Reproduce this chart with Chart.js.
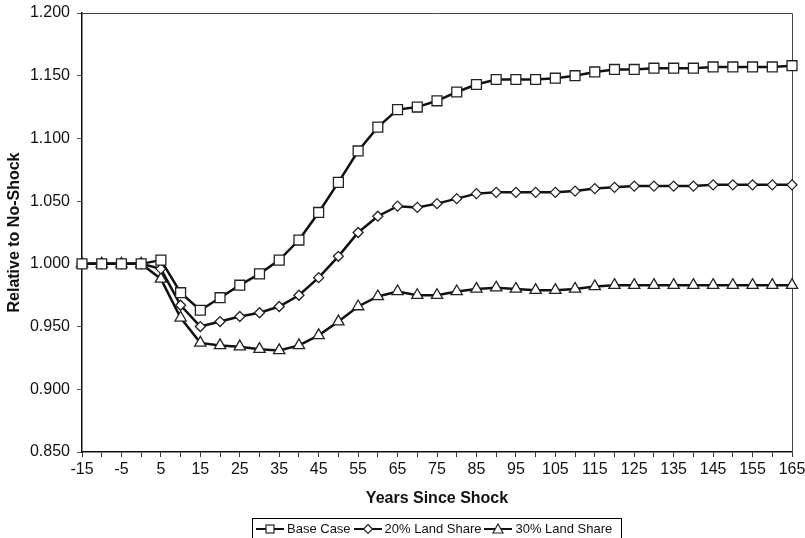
<!DOCTYPE html>
<html>
<head>
<meta charset="utf-8">
<script src="https://cdn.jsdelivr.net/npm/chart.js@4/dist/chart.umd.min.js"></script>
<style>
  body { margin: 0; background: #fff; }
  #wrap { position: relative; width: 805px; height: 538px; overflow: hidden; }
  #legend {
    position: absolute; left: 252px; top: 518px; width: 370px; height: 24px;
    border: 1px solid #000; box-sizing: border-box;
    display: flex; align-items: flex-start; padding: 2px 0 0 3px;
    font: 13px "Liberation Sans", Arial, sans-serif; color: #111; white-space: nowrap;
  }
  #legend span.item { display: inline-flex; align-items: center; margin-right: 3px; }
  #legend svg { margin-right: 3px; }
</style>
</head>
<body>
<div id="wrap">
  <canvas id="myChart" width="805" height="538"></canvas>
  <div id="legend"></div>
</div>
<script>
const years = [-15, -10, -5, 0, 5, 10, 15, 20, 25, 30, 35, 40, 45, 50, 55, 60, 65, 70, 75, 80,
  85, 90, 95, 100, 105, 110, 115, 120, 125, 130, 135, 140, 145, 150, 155, 160, 165];

const baseCase = [1.000, 1.000, 1.000, 1.000, 1.003, 0.977, 0.963, 0.973, 0.983, 0.992, 1.003, 1.019,
  1.041, 1.065, 1.090, 1.109, 1.123, 1.125, 1.130, 1.137, 1.143, 1.147, 1.147, 1.147, 1.148, 1.150,
  1.153, 1.155, 1.155, 1.156, 1.156, 1.156, 1.157, 1.157, 1.157, 1.157, 1.158];

const landShare20 = [1.000, 1.000, 1.000, 1.000, 0.996, 0.967, 0.950, 0.954, 0.958, 0.961, 0.966, 0.975,
  0.989, 1.006, 1.025, 1.038, 1.046, 1.045, 1.048, 1.052, 1.056, 1.057, 1.057, 1.057, 1.057, 1.058,
  1.060, 1.061, 1.062, 1.062, 1.062, 1.062, 1.063, 1.063, 1.063, 1.063, 1.063];

const landShare30 = [1.000, 1.000, 1.000, 1.000, 0.988, 0.957, 0.937, 0.935, 0.934, 0.932, 0.931, 0.935,
  0.943, 0.954, 0.966, 0.974, 0.978, 0.975, 0.975, 0.978, 0.980, 0.981, 0.980, 0.979, 0.979, 0.980,
  0.982, 0.983, 0.983, 0.983, 0.983, 0.983, 0.983, 0.983, 0.983, 0.983, 0.983];

const seriesNames = ['Base Case', '20% Land Share', '30% Land Share'];
const yMin = 0.85, yMax = 1.2, yStep = 0.05;

const FONT = '"Liberation Sans", Arial, sans-serif';

function makeSet(label, data, style, radius) {
    return {
        label: label,
        data: data,
        borderColor: '#111',
        borderWidth: 2.5,
        pointStyle: style,
        pointRadius: radius,
        pointBackgroundColor: '#fff',
        pointBorderColor: '#222',
        pointBorderWidth: 1.3,
        tension: 0,
        clip: false
    };
}

// top and right border of the plot area
const frame = {
    id: 'frame',
    beforeDatasetsDraw(chart) {
        const a = chart.chartArea;
        const c = chart.ctx;
        c.save();
        c.strokeStyle = '#444';
        c.lineWidth = 1;
        c.beginPath();
        c.moveTo(a.left, a.top + 0.5);
        c.lineTo(a.right + 0.5, a.top + 0.5);
        c.lineTo(a.right + 0.5, a.bottom);
        c.stroke();
        c.restore();
    }
};

const ctx = document.getElementById('myChart').getContext('2d');
const myChart = new Chart(ctx, {
    type: 'line',
    data: {
        labels: years,
        datasets: [
            makeSet(seriesNames[0], baseCase, 'rect', 7),
            makeSet(seriesNames[1], landShare20, 'rectRot', 5),
            makeSet(seriesNames[2], landShare30, 'triangle', 6.5)
        ]
    },
    plugins: [frame],
    options: {
        responsive: false,
        animation: false,
        layout: { padding: { top: 13, right: 13, left: 0, bottom: 0 } },
        plugins: {
            legend: { display: false },
            tooltip: { enabled: false }
        },
        scales: {
            x: {
                offset: false,
                afterFit(scale) {
                    scale.height = 86;
                    scale.paddingLeft = 0;
                    scale.paddingRight = 0;
                },
                grid: { drawOnChartArea: false, tickLength: 5, color: '#333', tickWidth: 1 },
                border: { color: '#111', width: 1.5 },
                ticks: {
                    autoSkip: false, maxRotation: 0, padding: 3,
                    color: '#111', font: { family: FONT, size: 16 },
                    callback: function (val, i) { return i % 2 === 0 ? years[i] : ''; }
                },
                title: {
                    display: true, text: 'Years Since Shock', color: '#111',
                    font: { family: FONT, size: 16, weight: 'bold' },
                    padding: { top: 0, bottom: 30 }
                }
            },
            y: {
                min: yMin, max: yMax,
                afterFit(scale) {
                    scale.width = 82;
                    scale.paddingTop = 0;
                    scale.paddingBottom = 0;
                },
                grid: { drawOnChartArea: false, tickLength: 5, color: '#555' },
                border: { color: '#111', width: 1.5 },
                ticks: {
                    stepSize: yStep, padding: 7, color: '#111',
                    font: { family: FONT, size: 16 },
                    callback: v => v.toFixed(3)
                },
                title: {
                    display: true, text: 'Relative to No-Shock', color: '#111',
                    font: { family: FONT, size: 16, weight: 'bold' },
                    padding: { top: 5, bottom: 0 }
                }
            }
        }
    }
});

// legend with line + marker icons
const icons = [
    '<rect x="10" y="2" width="8" height="8" fill="#fff" stroke="#222" stroke-width="1.2"/>',
    '<path d="M14 1.5 L18.5 6 L14 10.5 L9.5 6 Z" fill="#fff" stroke="#222" stroke-width="1.2"/>',
    '<path d="M14 1 L19 10 L9 10 Z" fill="#fff" stroke="#222" stroke-width="1.2"/>'
];
const legendEl = document.getElementById('legend');
seriesNames.forEach((name, i) => {
    const item = document.createElement('span');
    item.className = 'item';
    item.innerHTML = '<svg width="28" height="12" viewBox="0 0 28 12">' +
        '<line x1="0" y1="6" x2="28" y2="6" stroke="#111" stroke-width="2"/>' + icons[i] + '</svg>' +
        '<span>' + name + '</span>';
    legendEl.appendChild(item);
});
</script>
</body>
</html>
